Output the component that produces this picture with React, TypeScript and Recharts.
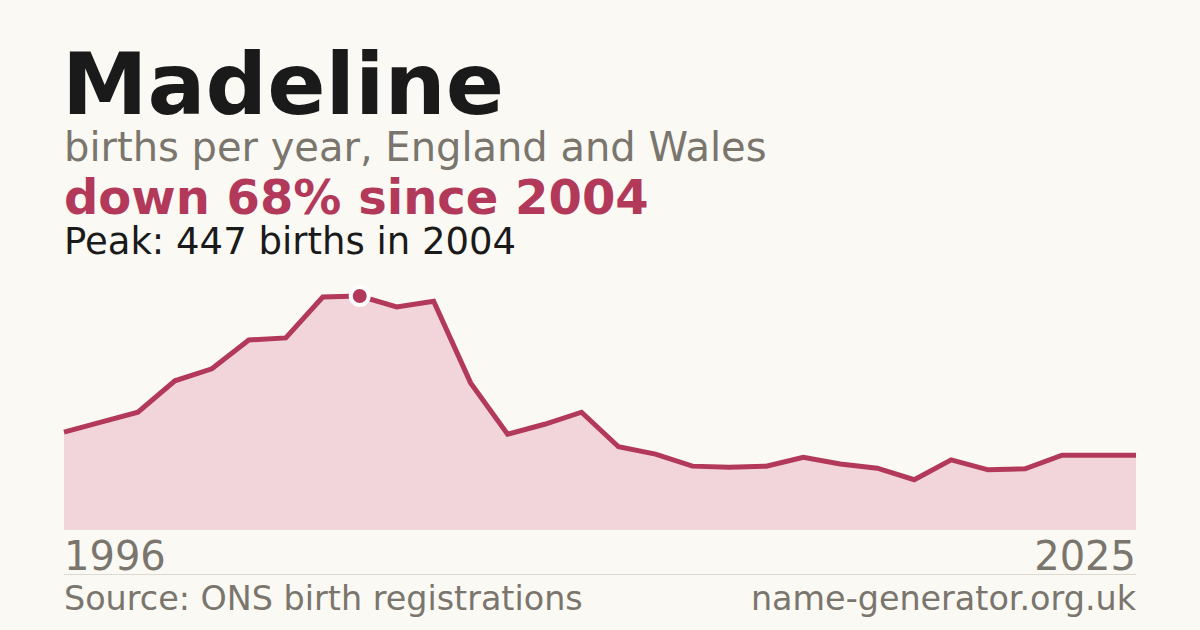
import React from "react";
import { AreaChart, Area, XAxis, YAxis } from "recharts";

const years = [
  1996, 1997, 1998, 1999, 2000, 2001, 2002, 2003, 2004, 2005,
  2006, 2007, 2008, 2009, 2010, 2011, 2012, 2013, 2014, 2015,
  2016, 2017, 2018, 2019, 2020, 2021, 2022, 2023, 2024, 2025,
];
const births = [
  187, 206, 225, 285, 308, 363, 367, 445, 447, 426,
  437, 281, 183, 202, 225, 159, 145, 122, 120, 122,
  139, 126, 118, 96, 134, 115, 117, 143, 143, 143,
];
const tickYears = [1996, 2025];
const peakYear = 2004;
const peakValue = 447;

const data = years.map((y, i) => ({ year: y, births: births[i] }));

const FONT = "'DejaVu Sans', sans-serif";
const RED = "#b3395a";
const GREY = "#7a756d";

const PeakDot = (props: any) => {
  const { cx, cy, payload } = props;
  if (!payload || payload.year !== peakYear) return <g key={props.index} />;
  return (
    <circle key={props.index} cx={cx} cy={cy} r={9} fill={RED} stroke="#ffffff" strokeWidth={4} />
  );
};

const YearTick = (props: any) => {
  const { x, payload } = props;
  const first = payload.value === tickYears[0];
  return (
    <text
      x={x}
      y={570}
      textAnchor={first ? "start" : "end"}
      fontFamily={FONT}
      fontSize={40}
      fill={GREY}
    >
      {payload.value}
    </text>
  );
};

export default function App() {
  return (
    <div
      style={{
        position: "absolute",
        left: 0,
        top: 0,
        width: 1200,
        height: 630,
        background: "#faf9f4",
        overflow: "hidden",
        fontFamily: FONT,
      }}
    >
      <svg width={1200} height={280} style={{ position: "absolute", left: 0, top: 0 }}>
        <text x={62} y={114} fontFamily={FONT} fontWeight="bold" fontSize={86} fill="#1a1a1a">
          Madeline
        </text>
        <text x={64} y={161} fontFamily={FONT} fontSize={40} fill={GREY}>
          births per year, England and Wales
        </text>
        <text x={64} y={214} fontFamily={FONT} fontWeight="bold" fontSize={48} fill={RED}>
          {`down 68% since ${peakYear}`}
        </text>
        <text x={64} y={254} fontFamily={FONT} fontSize={37} fill="#1a1a1a">
          {`Peak: ${peakValue} births in ${peakYear}`}
        </text>
      </svg>
      <div style={{ position: "absolute", left: 0, top: 0 }}>
        <AreaChart
          width={1200}
          height={630}
          data={data}
          margin={{ top: 296, right: 64, bottom: 40, left: 64 }}
        >
          <XAxis
            dataKey="year"
            ticks={tickYears}
            interval={0}
            axisLine={false}
            tickLine={false}
            height={60}
            tick={<YearTick />}
            padding={{ left: 0, right: 0 }}
          />
          <YAxis hide domain={[0, peakValue]} />
          <Area
            type="linear"
            dataKey="births"
            stroke={RED}
            strokeWidth={5}
            fill="#f2d5db"
            fillOpacity={1}
            dot={<PeakDot />}
            activeDot={false}
            isAnimationActive={false}
          />
        </AreaChart>
      </div>
      <div
        style={{
          position: "absolute",
          left: 64,
          top: 574,
          width: 1072,
          height: 1,
          background: "#ddd9d0",
        }}
      />
      <svg width={1200} height={630} style={{ position: "absolute", left: 0, top: 0, pointerEvents: "none" }}>
        <text x={64} y={610} fontFamily={FONT} fontSize={33.4} fill={GREY}>
          Source: ONS birth registrations
        </text>
        <text x={1136} y={610} textAnchor="end" fontFamily={FONT} fontSize={33.4} fill={GREY}>
          name-generator.org.uk
        </text>
      </svg>
    </div>
  );
}
